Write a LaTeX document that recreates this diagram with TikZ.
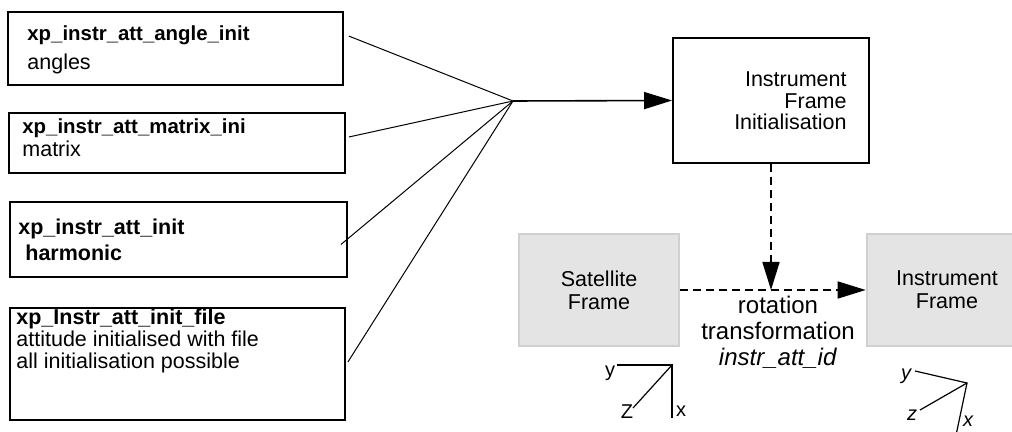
\documentclass[tikz,border=0pt]{standalone}
\usepackage{fontspec}
\setmainfont{Liberation Sans}
\usetikzlibrary{arrows.meta}

\definecolor{framefill}{HTML}{E4E4E4}
\definecolor{frameline}{HTML}{D0D0D0}

\tikzset{
  fnbox/.style={draw, line width=0.9pt, inner sep=0pt},
  fntext/.style={anchor=west, align=left, inner sep=0pt,
    font=\fontsize{10.75}{#1}\selectfont},
  fntext/.default=12,
  framebox/.style={draw=frameline, fill=framefill, line width=1.3pt,
    inner sep=0pt, minimum width=80pt, minimum height=56pt, align=center,
    font=\fontsize{10.75}{11.5}\selectfont},
  flow/.style={line width=0.8pt, -{Triangle[length=14pt,width=8.5pt]}},
  dashpat/.style={dash pattern=on 4pt off 2.5pt},
  axis/.style={line width=0.6pt},
  axlbl/.style={inner sep=0pt, font=\fontsize{10}{10}\selectfont}
}

\begin{document}
\begin{tikzpicture}[x=0.5pt,y=-0.5pt]
\useasboundingbox (0,0) rectangle (1012,432);

% init functions
\node[fnbox,minimum width=167.5pt,minimum height=36.5pt] (angle) at (175.5,48.5) {};
\node[fnbox,minimum width=168pt,minimum height=30pt] (matrix) at (177,143) {};
\node[fnbox,minimum width=168.5pt,minimum height=37.5pt] (harm) at (178.5,239.5) {};
\node[fnbox,minimum width=167.5pt,minimum height=56pt] (file) at (177.5,364) {};

\node[fntext=14.5] (angletxt) at (27,50)
  {{\fontsize{10.2}{14.5}\selectfont\bfseries xp\_instr\_att\_angle\_init}\\angles};
\node[fntext=11.5] (matrixtxt) at (22,138)
  {{\fontsize{10.2}{11.5}\selectfont\bfseries xp\_instr\_att\_matrix\_ini}\\matrix};
\node[fntext=13] (harmtxt) at (18,240)
  {\textbf{xp\_instr\_att\_init}\\\hspace*{3.5pt}\textbf{harmonic}};
\node[fntext=11] (filetxt) at (16,341)
  {\textbf{xp\_Instr\_att\_init\_file}\\attitude initialised with file\\all initialisation possible};

\coordinate (hub) at (513,101);
\draw[line width=0.5pt] ([shift={(5,25)}]angle.north east) -- (hub);
\draw[line width=0.5pt] ([shift={(3,-6)}]matrix.east) -- (hub);
\draw[line width=0.5pt] ([shift={(-7,5)}]harm.east) -- (hub);
\draw[line width=0.5pt] ([shift={(2,-2)}]file.east) -- (hub);

% frames
\node[fnbox,minimum width=98pt,minimum height=62.5pt] (ifi) at (771,100.5) {};
\node[fntext=10.75,anchor=east,align=right] (ifitxt) at (847,101)
  {Instrument\\Frame\\Initialisation};
\node[framebox] (sat) at (599,290) {Satellite\\Frame};
\node[framebox] (inst) at (947,290) {Instrument\\Frame};

\draw[flow] (hub) -- (ifi.west);
\draw[flow,dashpat] (ifi.south) -- (ifi.south |- sat.east);
\draw[flow,dashpat] (sat.east) -- (inst.west);

\node[align=center,inner sep=0pt,font=\fontsize{12}{13}\selectfont] (rot) at (778,332)
  {rotation\\transformation\\\textit{instr\_att\_id}};

% axes
\draw[axis] (617,365) -- (672,365) -- (672,418);
\draw[axis] (672,365) -- (633,408);
\node[axlbl] (y1) at (610,373) {y};
\node[axlbl] (z1) at (627,412) {Z};
\node[axlbl] (x1) at (681,411) {x};

\draw[axis] (915,371) -- (967,383) -- (955,440);
\draw[axis] (967,383) -- (920,410);
\node[axlbl] (y2) at (906,376) {\itshape y};
\node[axlbl] (z2) at (912,415) {\itshape z};
\node[axlbl] (x2) at (968,421) {\itshape x};
\end{tikzpicture}
\end{document}
